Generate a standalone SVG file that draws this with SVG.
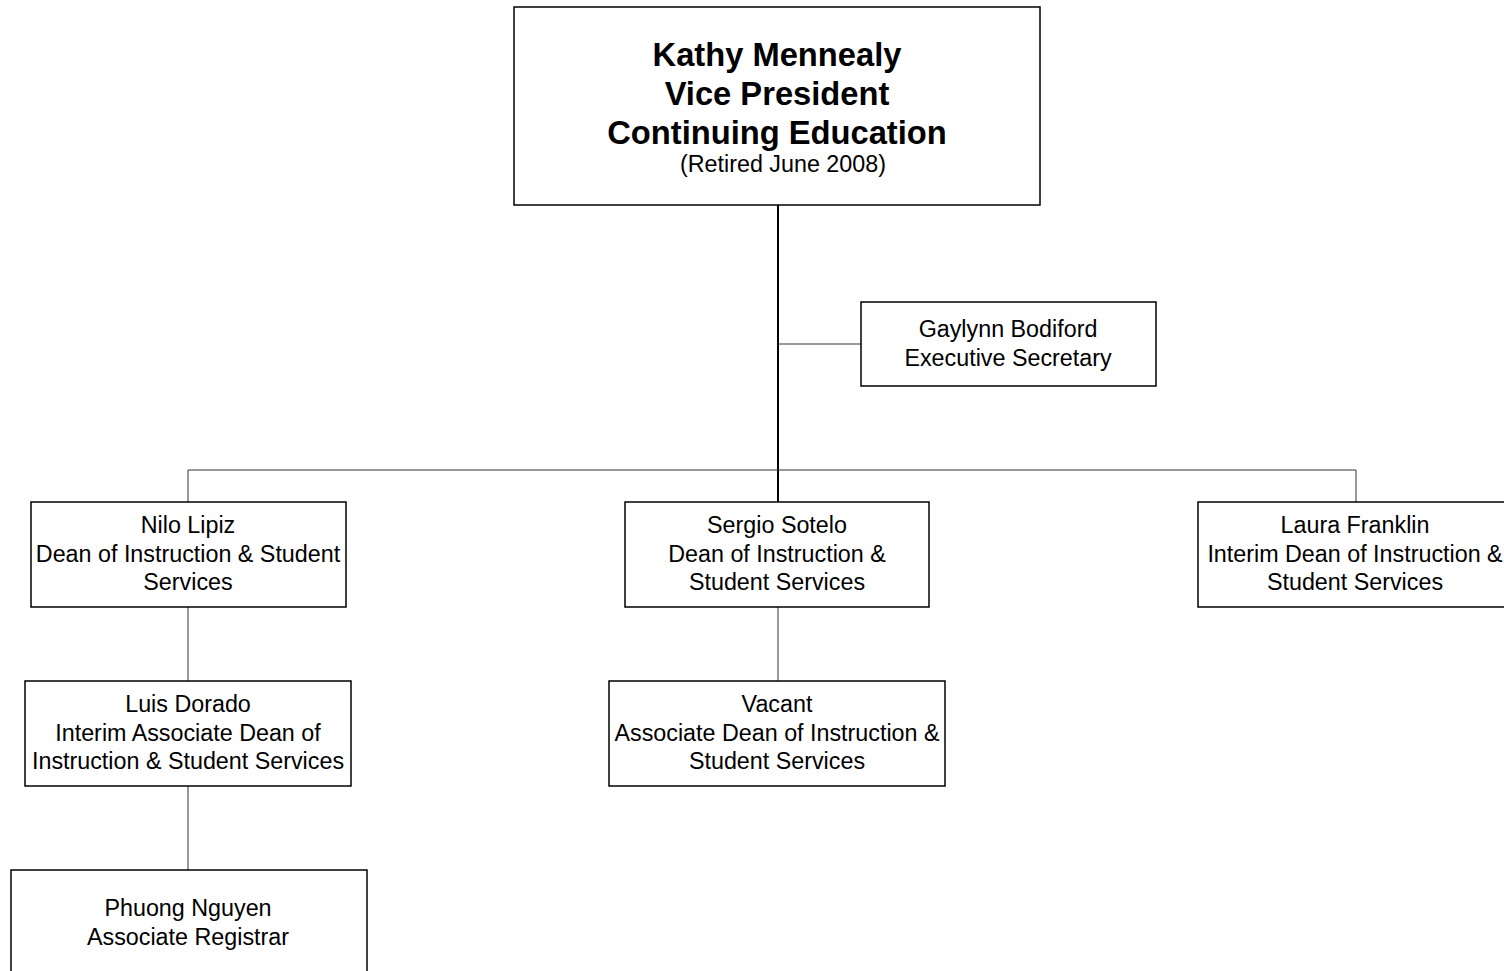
<svg xmlns="http://www.w3.org/2000/svg" width="1504" height="971" viewBox="0 0 1504 971">
  <style>
    .box { fill: #ffffff; stroke: #000000; stroke-width: 1.5; }
    .t { font-family: "Liberation Sans", Arial, sans-serif; font-size: 23.3px; fill: #000000; text-anchor: middle; }
    .tb { font-family: "Liberation Sans", Arial, sans-serif; font-size: 32.7px; font-weight: bold; fill: #000000; text-anchor: middle; }
    .link { stroke: #333333; stroke-width: 1; fill: none; }
    .trunk { stroke: #000000; stroke-width: 2; fill: none; }
  </style>
  <rect width="1504" height="971" fill="#ffffff"/>

  <g id="connectors">
    <line class="trunk" x1="778" y1="205" x2="778" y2="502"/>
    <line class="link" x1="778" y1="344" x2="861" y2="344"/>
    <polyline class="link" points="188,502 188,470 1356,470 1356,502"/>
    <line class="link" x1="188" y1="607" x2="188" y2="681"/>
    <line class="link" x1="188" y1="786" x2="188" y2="870"/>
    <line class="link" x1="778" y1="607" x2="778" y2="681"/>
  </g>

  <g id="vp">
    <rect class="box" x="514" y="7" width="526" height="198"/>
    <text class="tb" x="777" y="66">Kathy Mennealy</text>
    <text class="tb" x="777" y="105">Vice President</text>
    <text class="tb" x="777" y="144">Continuing Education</text>
    <text class="t" x="783" y="172">(Retired June 2008)</text>
  </g>

  <g id="secretary">
    <rect class="box" x="861" y="302" width="295" height="84"/>
    <text class="t" x="1008" y="337">Gaylynn Bodiford</text>
    <text class="t" x="1008" y="366">Executive Secretary</text>
  </g>

  <g id="lipiz">
    <rect class="box" x="31" y="502" width="315" height="105"/>
    <text class="t" x="188" y="533">Nilo Lipiz</text>
    <text class="t" x="188" y="562">Dean of Instruction &amp; Student</text>
    <text class="t" x="188" y="590">Services</text>
  </g>

  <g id="sotelo">
    <rect class="box" x="625" y="502" width="304" height="105"/>
    <text class="t" x="777" y="533">Sergio Sotelo</text>
    <text class="t" x="777" y="562">Dean of Instruction &amp;</text>
    <text class="t" x="777" y="590">Student Services</text>
  </g>

  <g id="franklin">
    <rect class="box" x="1198" y="502" width="310" height="105"/>
    <text class="t" x="1355" y="533">Laura Franklin</text>
    <text class="t" x="1355" y="562">Interim Dean of Instruction &amp;</text>
    <text class="t" x="1355" y="590">Student Services</text>
  </g>

  <g id="dorado">
    <rect class="box" x="25" y="681" width="326" height="105"/>
    <text class="t" x="188" y="712">Luis Dorado</text>
    <text class="t" x="188" y="741">Interim Associate Dean of</text>
    <text class="t" x="188" y="769">Instruction &amp; Student Services</text>
  </g>

  <g id="vacant">
    <rect class="box" x="609" y="681" width="336" height="105"/>
    <text class="t" x="777" y="712">Vacant</text>
    <text class="t" x="777" y="741">Associate Dean of Instruction &amp;</text>
    <text class="t" x="777" y="769">Student Services</text>
  </g>

  <g id="nguyen">
    <rect class="box" x="11" y="870" width="356" height="110"/>
    <text class="t" x="188" y="916">Phuong Nguyen</text>
    <text class="t" x="188" y="945">Associate Registrar</text>
  </g>
</svg>
